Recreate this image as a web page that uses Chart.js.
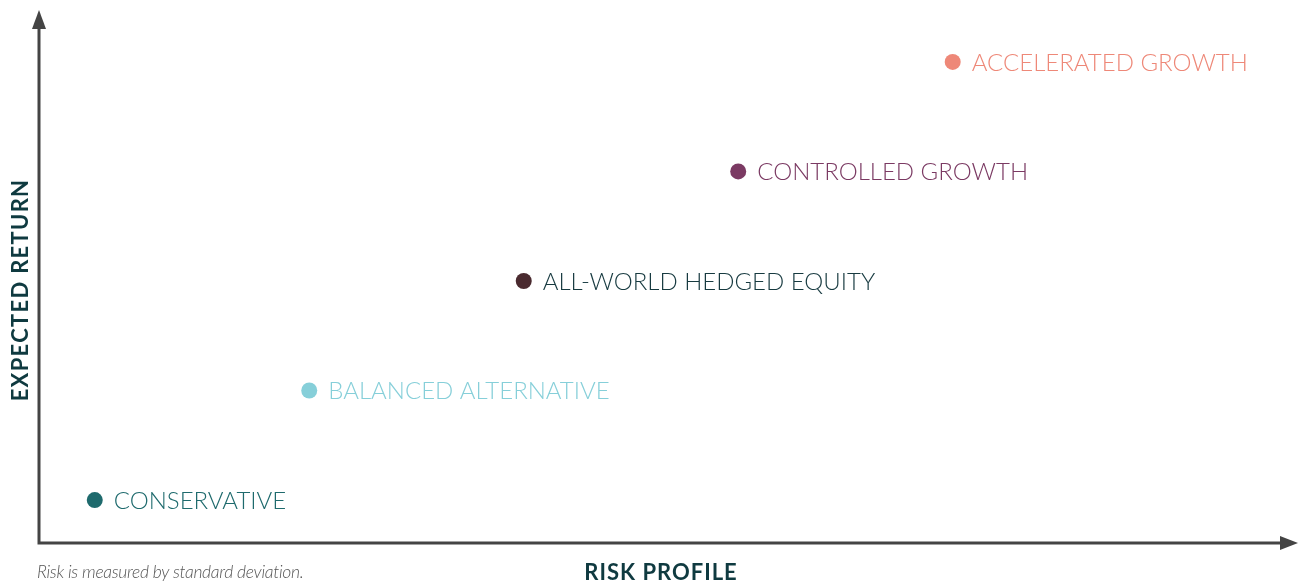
<!DOCTYPE html>
<html>
<head>
<meta charset="utf-8">
<script src="https://cdn.jsdelivr.net/npm/chart.js@4"></script>
<style>
  html, body { margin: 0; padding: 0; background: #ffffff; }
  .wrap { position: relative; width: 1298px; height: 583px; }
  #riskChart { display: block; }
  .note {
    position: absolute; left: 37px; top: 561px;
    font-family: Lato, sans-serif; font-style: italic; font-weight: 300;
    font-size: 17.5px; color: #555555; letter-spacing: -0.3px;
  }
</style>
</head>
<body>
<div class="wrap">
  <canvas id="riskChart" width="1298" height="583"></canvas>
  <div class="note">Risk is measured by standard deviation.</div>
</div>
<script>
const profiles = ['CONSERVATIVE', 'BALANCED ALTERNATIVE', 'ALL-WORLD HEDGED EQUITY', 'CONTROLLED GROWTH', 'ACCELERATED GROWTH'];
const riskValues = [1, 2, 3, 4, 5];
const returnValues = [1, 2, 3, 4, 5];
const dotColors = ['#1e6a6d', '#86cfd9', '#4a2a2f', '#7b3a63', '#ee8878'];
const textColors = ['#1e6a6d', '#86cfd9', '#173a40', '#7b3a63', '#ee8878'];
const xTitle = 'RISK PROFILE';
const yTitle = 'EXPECTED RETURN';

const axisColor = '#444444';
const titleColor = '#0f3a40';

// axes with arrow heads + point labels + axis titles
const decorations = {
  id: 'decorations',
  afterDatasetsDraw(chart) {
    const ctx = chart.ctx;
    const a = chart.chartArea;
    ctx.save();
    ctx.strokeStyle = axisColor;
    ctx.fillStyle = axisColor;
    ctx.lineWidth = 3;
    ctx.beginPath();
    ctx.moveTo(a.left, a.top + 8);
    ctx.lineTo(a.left, a.bottom);
    ctx.lineTo(a.right + 2, a.bottom);
    ctx.stroke();
    // up arrow
    ctx.beginPath();
    ctx.moveTo(a.left, a.top - 5);
    ctx.lineTo(a.left - 7, a.top + 14);
    ctx.lineTo(a.left + 7, a.top + 14);
    ctx.closePath();
    ctx.fill();
    // right arrow
    ctx.beginPath();
    ctx.moveTo(a.right + 15, a.bottom);
    ctx.lineTo(a.right - 3, a.bottom - 7);
    ctx.lineTo(a.right - 3, a.bottom + 7);
    ctx.closePath();
    ctx.fill();

    // point labels
    const meta = chart.getDatasetMeta(0);
    ctx.font = '300 24px Lato, sans-serif';
    ctx.textBaseline = 'middle';
    ctx.textAlign = 'left';
    meta.data.forEach((pt, i) => {
      ctx.fillStyle = textColors[i];
      ctx.fillText(profiles[i], pt.x + 19, pt.y + 1);
    });

    // axis titles
    ctx.fillStyle = titleColor;
    ctx.font = 'bold 22px Lato, sans-serif';
    ctx.letterSpacing = '1px';
    ctx.textAlign = 'center';
    ctx.textBaseline = 'alphabetic';
    ctx.fillText(xTitle, (a.left + a.right) / 2, a.bottom + 37);
    ctx.save();
    ctx.letterSpacing = '1.3px';
    ctx.translate(a.left - 11, (a.top + a.bottom) / 2 + 11);
    ctx.rotate(-Math.PI / 2);
    ctx.fillText(yTitle, 0, 0);
    ctx.restore();
    ctx.restore();
  }
};

new Chart(document.getElementById('riskChart'), {
  type: 'scatter',
  data: {
    datasets: [{
      data: riskValues.map((x, i) => ({ x: x, y: returnValues[i] })),
      backgroundColor: dotColors,
      borderWidth: 0,
      pointRadius: 8,
      pointHoverRadius: 8
    }]
  },
  options: {
    responsive: false,
    animation: false,
    layout: { padding: { left: 39, right: 15, top: 15, bottom: 40 } },
    plugins: { legend: { display: false }, tooltip: { enabled: false } },
    scales: {
      x: { display: false, min: 0.74, max: 6.54 },
      y: { display: false, min: 0.608, max: 5.428 }
    }
  },
  plugins: [decorations]
});
</script>
</body>
</html>
